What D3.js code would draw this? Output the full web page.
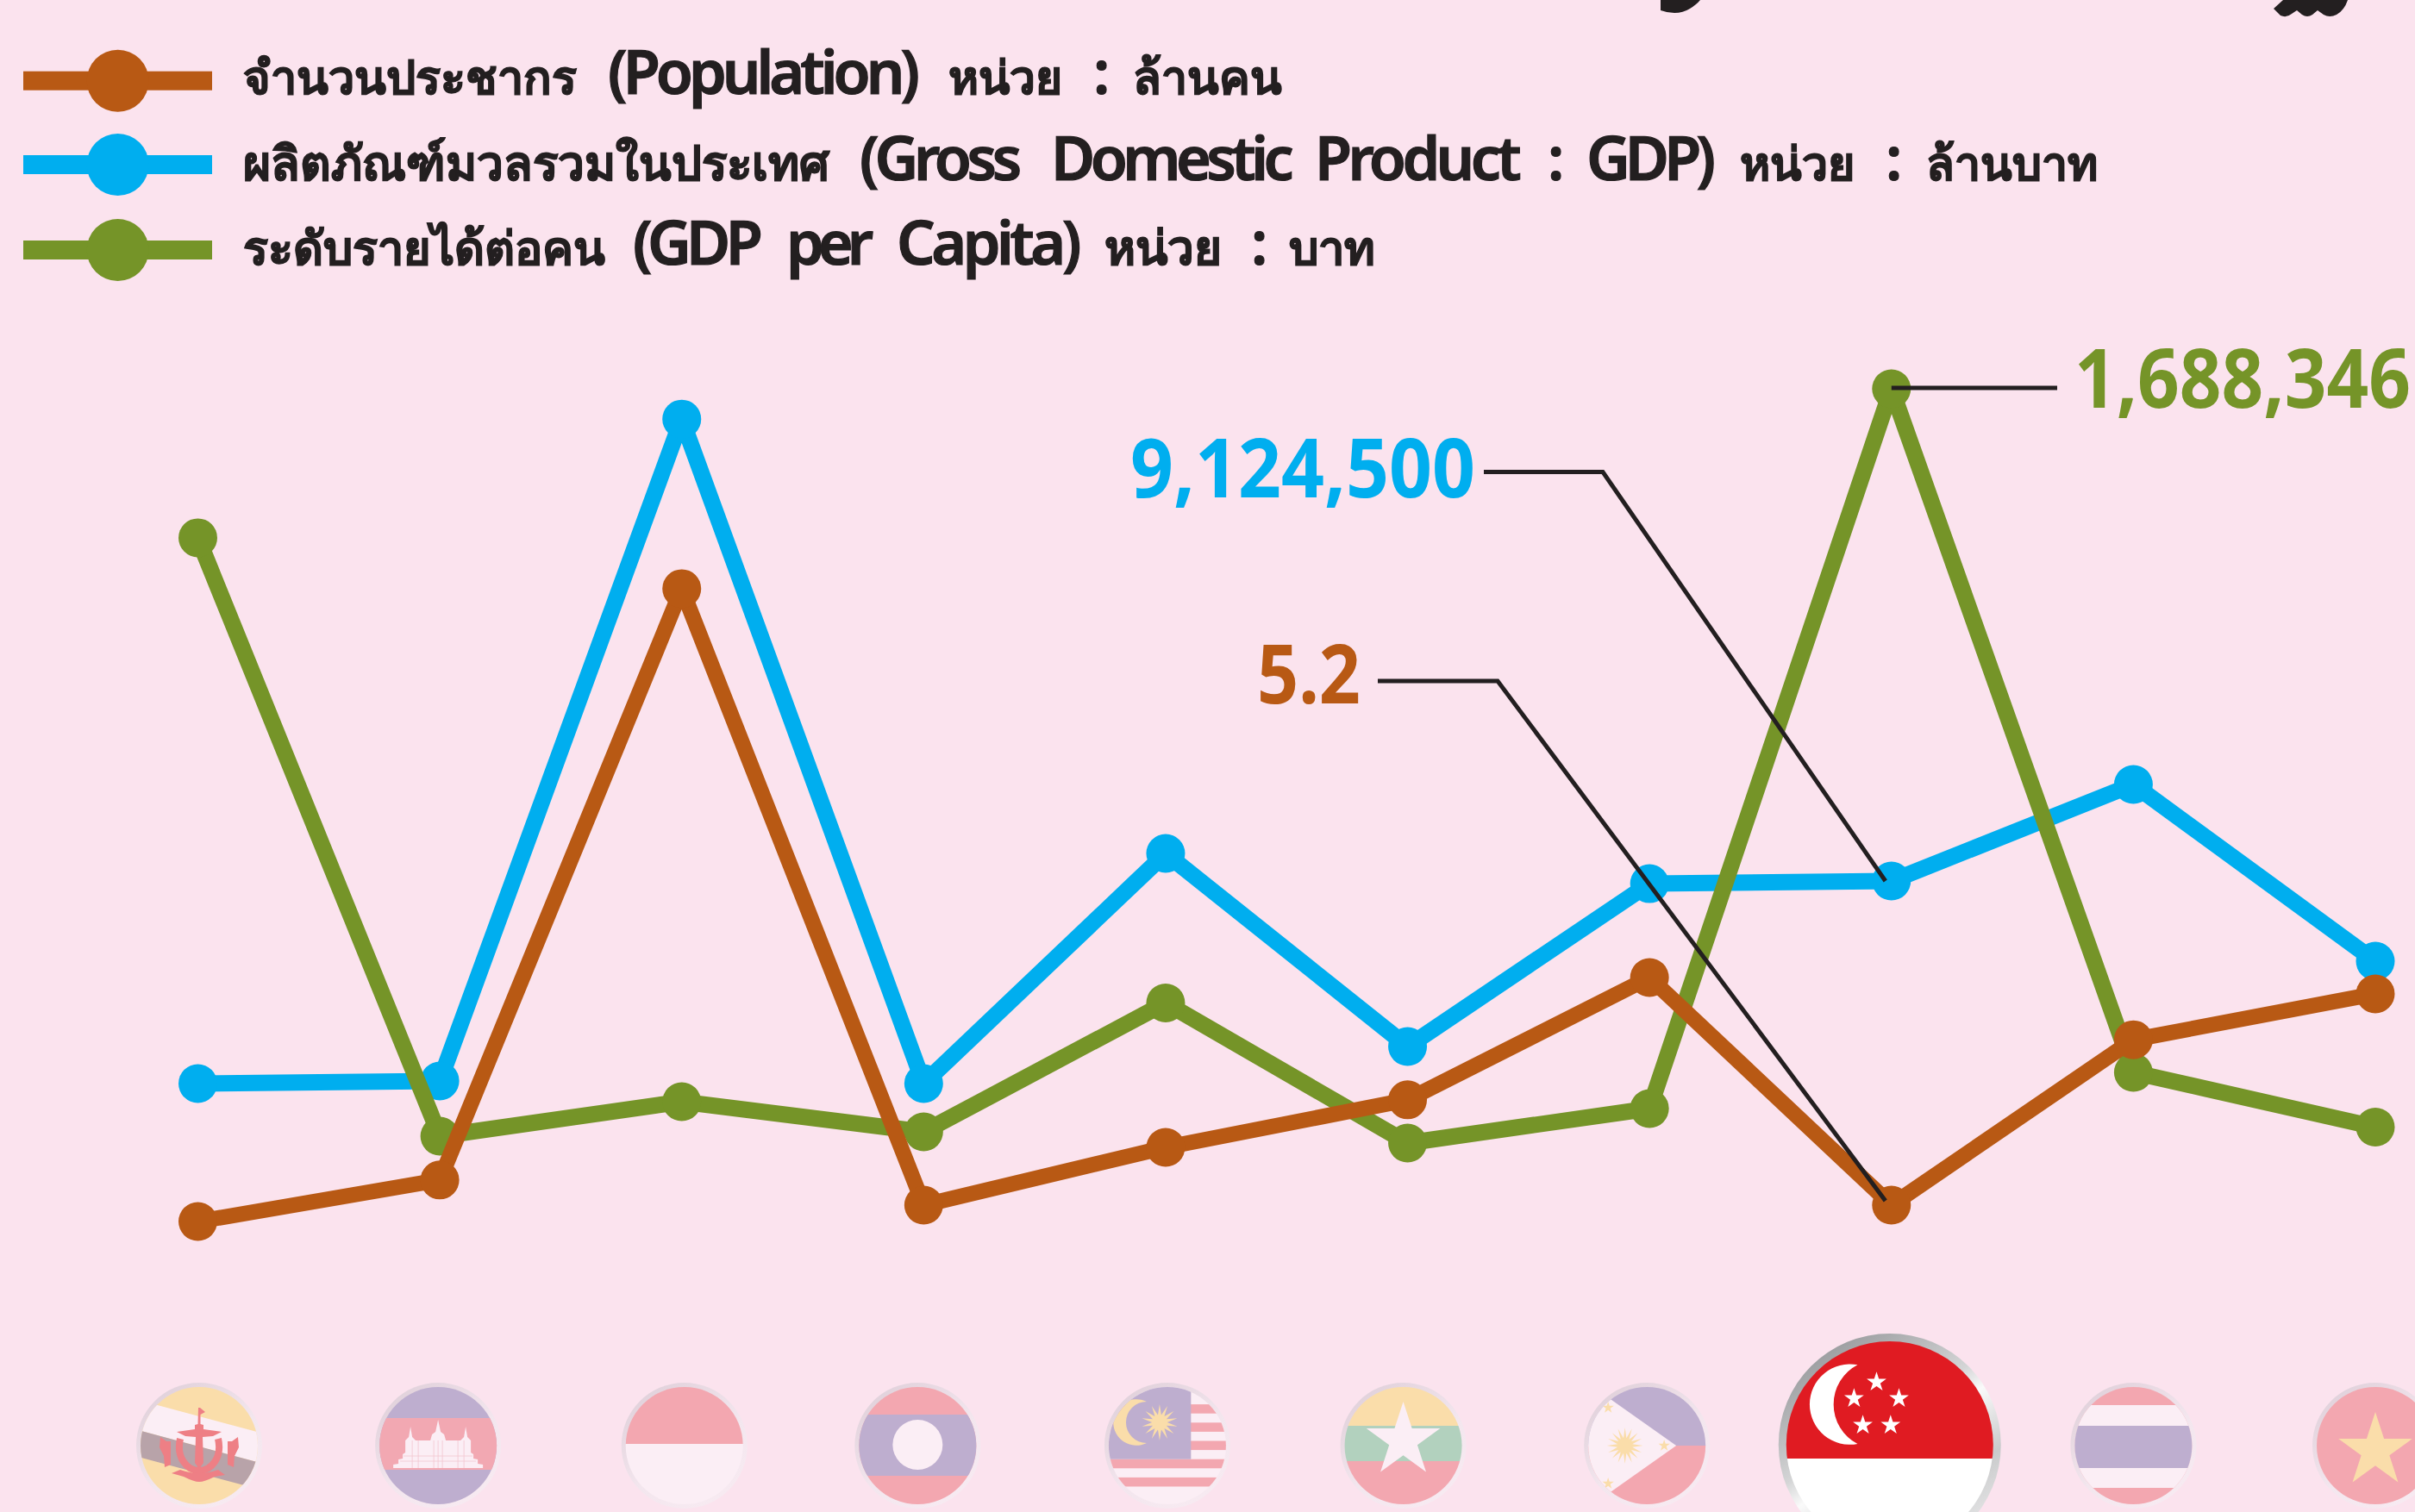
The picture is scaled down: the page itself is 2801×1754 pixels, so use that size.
<!DOCTYPE html>
<html lang="th">
<head>
<meta charset="utf-8">
<title>ASEAN population, GDP and GDP per capita</title>
<script src="https://cdn.jsdelivr.net/npm/d3@7/dist/d3.min.js"></script>
<style>
  html, body { margin: 0; padding: 0; background: #FBE3EE; }
  svg { display: block; }
  text { font-family: "Noto Sans", "Noto Sans CJK SC", "DejaVu Sans", sans-serif; }
</style>
</head>
<body>
<svg id="chart" width="2801" height="1754" xmlns="http://www.w3.org/2000/svg"></svg>
<script>
// ---- data ----
const countries = ["Brunei", "Cambodia", "Indonesia", "Laos", "Malaysia", "Myanmar", "Philippines", "Singapore", "Thailand", "Vietnam"];
const population = [0.38, 12.6, 186.7, 5.2, 22.2, 36.2, 72.2, 5.2, 53.9, 67.4];
const gdp = [480000, 590000, 28840000, 480000, 10300000, 2060000, 9010000, 9124500, 13245000, 5700000];
const gdpPerCapita = [1360000, 41800, 117700, 51300, 335200, 26600, 102600, 1688346, 182300, 61700];
const legendLabels = [
  "จำนวนประชากร (Population) หน่วย : ล้านคน",
  "ผลิตภัณฑ์มวลรวมในประเทศ (Gross Domestic Product : GDP) หน่วย : ล้านบาท",
  "ระดับรายได้ต่อคน (GDP per Capita) หน่วย : บาท"
];
const highlighted = "Singapore";
const calloutPopulation = "5.2";
const calloutGdp = "9,124,500";
const calloutPerCapita = "1,688,346";

// ---- scales ----
const ORANGE = "#B85914", BLUE = "#00AEEF", GREEN = "#759428", INK = "#231F20";
const x = d3.scalePoint().domain(countries).range([229.5, 2755]);
const yPopulation = d3.scaleLinear().domain([0, 200]).range([1418.5, 630.5]);
const yGdp = d3.scaleLinear().domain([0, 30000000]).range([1270, 454.6]);
const yPerCapita = d3.scaleLinear().domain([0, 1800000]).range([1340, 392.2]);

const svg = d3.select("#chart");
svg.append("rect").attr("width", 2801).attr("height", 1754).attr("fill", "#FBE3EE");

// ---- cropped title fragments at the top edge ----
svg.append("path").attr("fill", INK)
  .attr("d", "M1926,0 L1926,12 Q1934,15 1942,15 Q1952,15 1960,10 Q1968,5 1972,0 Z");
svg.append("path").attr("fill", INK)
  .attr("d", "M2648,0 L2637,10 L2645,18 Q2652,21 2658,16 L2664,12 L2670,17 Q2676,21 2682,17 L2688,12 L2695,17 Q2702,21 2710,17 Q2719,12 2723,0 Z");

// ---- flags ----
const defs = svg.append("defs");
const ringSoft = defs.append("linearGradient").attr("id", "ringSoft")
  .attr("x1", "0.15").attr("y1", "0").attr("x2", "0.85").attr("y2", "1");
ringSoft.append("stop").attr("offset", "0").attr("stop-color", "#DFCFD9");
ringSoft.append("stop").attr("offset", "0.55").attr("stop-color", "#F3E6EE");
ringSoft.append("stop").attr("offset", "1").attr("stop-color", "#F8EBF2");
const ringHard = defs.append("linearGradient").attr("id", "ringHard")
  .attr("x1", "0.15").attr("y1", "0").attr("x2", "0.8").attr("y2", "1");
ringHard.append("stop").attr("offset", "0").attr("stop-color", "#8F9194");
ringHard.append("stop").attr("offset", "0.42").attr("stop-color", "#D4D5D6");
ringHard.append("stop").attr("offset", "0.52").attr("stop-color", "#FAFAFA");
ringHard.append("stop").attr("offset", "0.75").attr("stop-color", "#C9CACB");
ringHard.append("stop").attr("offset", "1").attr("stop-color", "#EDEDEE");

const RED = "#F3A7B0", PURPLE = "#BEAECF", YELLOW = "#FADDAA", PALE = "#FBEEF5", MINT = "#B2D1BE", CREST = "#EE7F85";

function star(g, cx, cy, R, fill, inner) {
  const pts = d3.range(10).map(i => {
    const r = i % 2 ? R * (inner || 0.382) : R, a = i * Math.PI / 5;
    return [cx + r * Math.sin(a), cy - r * Math.cos(a)];
  });
  g.append("polygon").attr("points", pts.join(" ")).attr("fill", fill);
}
function sun(g, cx, cy, R, rays, fill) {
  const pts = d3.range(rays * 2).map(i => {
    const r = i % 2 ? R * 0.42 : R, a = i * Math.PI / rays;
    return [cx + r * Math.sin(a), cy - r * Math.cos(a)];
  });
  g.append("polygon").attr("points", pts.join(" ")).attr("fill", fill);
}
function band(g, y0, y1, fill) {
  g.append("rect").attr("x", -140).attr("width", 280).attr("y", y0).attr("height", y1 - y0).attr("fill", fill);
}

const flagPainters = {
  Brunei(g) {
    band(g, -140, 140, YELLOW);
    g.append("polygon").attr("points", "-140,-71.8 140,3.8 140,38.8 -140,-36.8").attr("fill", PALE);
    g.append("polygon").attr("points", "-140,-36.8 140,38.8 140,69.8 -140,-5.8").attr("fill", "#B8A3A9");
    g.append("path").attr("fill", CREST)
      .attr("d", "M-1,-44 L1,-44 L7,-39 L1.5,-36 L1.5,-25 L5,-24 L5,-19 L26,-16 L16,-11 L4,-10 L5,20 L0,27 L-5,20 L-4,-10 L-16,-11 L-26,-16 L-5,-19 L-5,-24 L-1.5,-25 Z");
    g.append("path").attr("fill", "none").attr("stroke", CREST).attr("stroke-width", 8)
      .attr("d", "M-22,-8 C-27,14 -14,29 0,29 C14,29 27,14 22,-8");
    g.append("path").attr("fill", CREST).attr("d", "M-45,-10 L-38,-5 L-33,-5 L-33,22 L-40,25 L-41,12 L-46,2 Z");
    g.append("path").attr("fill", CREST).attr("d", "M45,-10 L38,-5 L33,-5 L33,22 L40,25 L41,12 L46,2 Z");
    g.append("path").attr("fill", CREST).attr("d", "M-32,32 L-22,28 Q0,36 22,28 L30,34 L18,36 Q6,42 0,42 Q-6,42 -18,36 Z");
  },
  Cambodia(g) {
    band(g, -140, 140, PURPLE);
    band(g, -32, 28, "#F2A8B2");
    g.append("path").attr("fill", PALE)
      .attr("d", "M-52,26 L-52,22 L-46,21 L-46,16 L-41,15 L-41,10 L-38,8 L-38,-6 L-34,-10 L-32,-22 L-30,-10 L-26,-6 L-9,-6 L-7,-13 L-3,-16 L0,-30 L3,-16 L7,-13 L9,-6 L26,-6 L30,-10 L32,-22 L34,-10 L38,-6 L38,8 L41,10 L41,15 L46,16 L46,21 L52,22 L52,26 Z");
    g.append("path").attr("stroke", "#F4C7CF").attr("stroke-width", 0.8).attr("fill", "none")
      .attr("d", "M-30,-6 L-30,26 M-23,-6 L-23,26 M-5,-6 L-5,26 M0,-6 L0,26 M5,-6 L5,26 M23,-6 L23,26 M30,-6 L30,26 M-44,18 L44,18 M-40,12 L40,12");
  },
  Indonesia(g) {
    band(g, -140, -2, RED);
    band(g, -2, 140, PALE);
  },
  Laos(g) {
    band(g, -140, 140, RED);
    band(g, -36, 35, PURPLE);
    g.append("circle").attr("cy", -1).attr("r", 29).attr("fill", PALE);
  },
  Malaysia(g) {
    band(g, -140, 140, PALE);
    d3.range(-7, 3).forEach(k => {
      if (k % 2 === 0) band(g, 15.7 + k * 10.6, 15.7 + (k + 1) * 10.6, RED);
    });
    g.append("rect").attr("x", -140).attr("y", -140).attr("width", 167.4).attr("height", 155.7).attr("fill", PURPLE);
    g.append("path").attr("fill", YELLOW)
      .attr("d", "M-24,-51 A26.8,26.8 0 1 0 -24,-3 A24,24 0 0 1 -24,-51 Z");
    sun(g, -9, -27, 21, 14, YELLOW);
  },
  Myanmar(g) {
    band(g, -140, -23, YELLOW);
    band(g, -23, 18, MINT);
    band(g, 18, 140, RED);
    star(g, 0, -6, 45, PALE);
  },
  Philippines(g) {
    band(g, -140, 0, PURPLE);
    band(g, 0, 140, RED);
    g.append("polygon").attr("points", "34,0 -116,-106 -116,106").attr("fill", PALE);
    sun(g, -25.5, 0, 21, 16, YELLOW);
    star(g, -45, -44, 7, YELLOW);
    star(g, -45, 44, 7, YELLOW);
    star(g, 20, 0, 7, YELLOW);
  },
  Singapore(g) {
    band(g, -140, 16, "#E01B22");
    band(g, 16, 140, "#FFFFFF");
    g.append("path").attr("fill", "#FFFFFF").attr("fill-rule", "evenodd")
      .attr("d", "M-37.3,-92.7 A46.7,46.7 0 1 0 -37.3,-1 A51.7,51.7 0 0 1 -37.3,-92.7 Z");
    [[-15.3, -72.7], [-41.4, -53.7], [10.7, -53.7], [-31.2, -22.7], [1, -22.7]]
      .forEach(p => star(g, p[0], p[1], 12, "#FFFFFF"));
  },
  Thailand(g) {
    band(g, -140, 140, RED);
    band(g, -47, 49, PALE);
    band(g, -23, 26, PURPLE);
  },
  Vietnam(g) {
    band(g, -140, 140, RED);
    star(g, 0, 6, 45, YELLOW);
  }
};
const flagNudge = { Brunei: 1.5, Cambodia: -2, Indonesia: 3, Laos: -7, Malaysia: 2, Myanmar: -5, Philippines: -3, Singapore: -2 };

const flagLayer = svg.append("g");
countries.forEach((c, i) => {
  const big = c === highlighted;
  const r = big ? 120 : 68, R = big ? 129 : 73;
  const g = flagLayer.append("g")
    .attr("transform", `translate(${x(c) + (flagNudge[c] || 0)},${big ? 1676 : 1677})`);
  g.append("circle").attr("r", R).attr("fill", big ? "url(#ringHard)" : "url(#ringSoft)");
  defs.append("clipPath").attr("id", "flag" + i).append("circle").attr("r", r);
  const inner = g.append("g").attr("clip-path", `url(#flag${i})`);
  flagPainters[c](inner);
});

// ---- series ----
const seriesDefs = [
  { values: gdp, y: yGdp, color: BLUE, w: 19 },
  { values: gdpPerCapita, y: yPerCapita, color: GREEN, w: 19 },
  { values: population, y: yPopulation, color: ORANGE, w: 18 }
];
seriesDefs.forEach(s => {
  const line = d3.line().x((d, i) => x(countries[i])).y(d => s.y(d));
  const g = svg.append("g");
  g.append("path").attr("d", line(s.values)).attr("fill", "none")
    .attr("stroke", s.color).attr("stroke-width", s.w).attr("stroke-linejoin", "round");
  g.selectAll("circle").data(s.values).join("circle")
    .attr("cx", (d, i) => x(countries[i])).attr("cy", d => s.y(d))
    .attr("r", 22.5).attr("fill", s.color);
});

// ---- callouts ----
const iSg = countries.indexOf(highlighted);
const sx = x(highlighted);
const leader = d3.line();
const callouts = [
  { pts: [[sx, yPerCapita(gdpPerCapita[iSg]) - 1], [2386, yPerCapita(gdpPerCapita[iSg]) - 1]],
    text: calloutPerCapita, color: GREEN, tx: 2406, tw: 390, base: 473 },
  { pts: [[1721, 547.5], [1859, 547.5], [sx - 7, yGdp(gdp[iSg])]],
    text: calloutGdp, color: BLUE, tx: 1311, tw: 400, base: 577 },
  { pts: [[1598, 790], [1737, 790], [sx - 7, yPopulation(population[iSg]) - 5]],
    text: calloutPopulation, color: ORANGE, tx: 1458, tw: 120, base: 816 }
];
callouts.forEach(c => {
  svg.append("path").attr("d", leader(c.pts)).attr("fill", "none")
    .attr("stroke", INK).attr("stroke-width", 5).attr("stroke-linejoin", "miter");
  const t = svg.append("text").text(c.text)
    .attr("fill", c.color).attr("font-size", 95).attr("font-weight", 700);
  const sxText = c.tw / t.node().getComputedTextLength();
  t.attr("transform", `translate(${c.tx},${c.base}) scale(${sxText},1)`);
});

// ---- legend ----
const legendRows = [
  { color: ORANGE, cy: 93.7, base: 109,
    words: [[282, 668], [705, 1062], [1100, 1232], [1268, 0], [1314, 1486]] },
  { color: BLUE, cy: 191, base: 209,
    words: [[282, 960], [997, 1180], [1219, 1495], [1525, 1760], [1795, 0], [1840, 1984], [2018, 2151], [2187, 0], [2234, 2432]] },
  { color: GREEN, cy: 290, base: 307,
    words: [[282, 701], [734, 879], [912, 1006], [1040, 1250], [1281, 1417], [1451, 0], [1495, 1595]] }
];
const isThai = /[\u0E00-\u0E7F]/;
const LEGEND_SIZE = 70;
legendRows.forEach((row, i) => {
  const g = svg.append("g");
  g.append("rect").attr("x", 27).attr("y", row.cy - 11).attr("width", 219).attr("height", 22).attr("fill", row.color);
  g.append("circle").attr("cx", 136.6).attr("cy", row.cy).attr("r", 36).attr("fill", row.color);
  const t = g.append("text").attr("y", row.base).attr("fill", INK)
    .attr("font-size", LEGEND_SIZE).attr("font-weight", 600)
    .attr("stroke", INK).attr("stroke-width", 1.2);
  legendLabels[i].split(" ").forEach((word, k) => {
    if (k) t.node().appendChild(document.createTextNode(" "));
    const [x0, x1] = row.words[k];
    const span = t.append("tspan").attr("x", x0).text(word);
    if (!x1) return;
    const target = x1 - x0;
    const natural = span.node().getComputedTextLength();
    if (isThai.test(word)) {
      // Thai words: size them to their measured width so the marks stay clear of each other
      span.attr("font-size", LEGEND_SIZE * target / natural);
    } else {
      // Latin words: keep the size and fit the width with real letter spacing
      span.style("letter-spacing", (target - natural) / Array.from(word).length + "px");
    }
  });
});
</script>
</body>
</html>
